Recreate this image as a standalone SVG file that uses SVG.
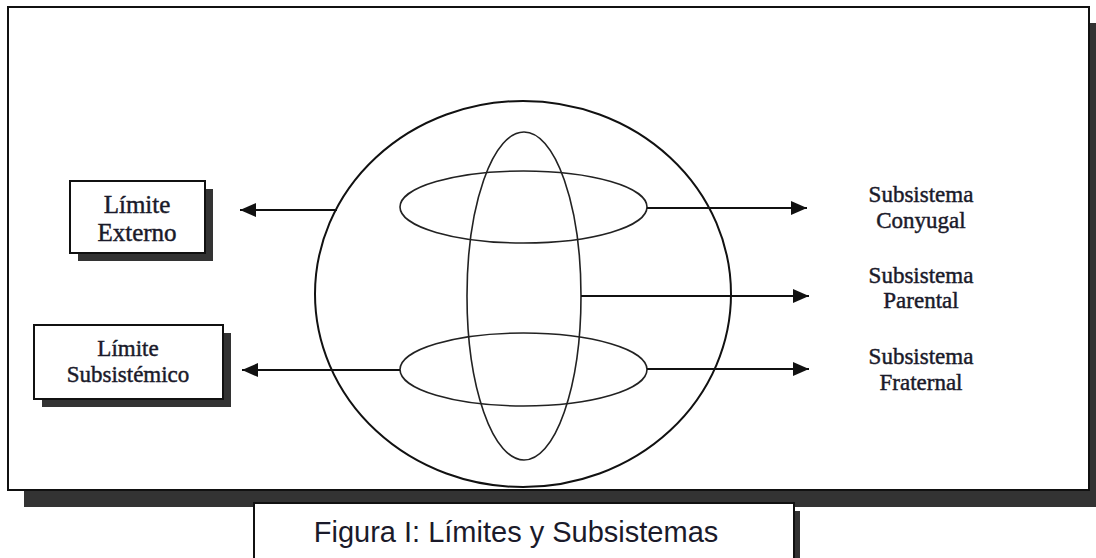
<svg xmlns="http://www.w3.org/2000/svg" width="1096" height="558" viewBox="0 0 1096 558">
<defs>
<style>
.frame{fill:#fff;stroke:#111;stroke-width:2}
.shadow{fill:#333;stroke:none}
.shape{fill:none;stroke:#111;stroke-width:2}
.inner{fill:none;stroke:#222;stroke-width:1.6}
.conn{stroke:#111;stroke-width:2;fill:none}
.lbl{font-family:"Liberation Serif","Times New Roman",serif;fill:#1a1a2a;stroke:#1a1a2a;stroke-width:0.45;text-anchor:middle}
.cap{font-family:"Liberation Sans",Arial,sans-serif;font-size:29px;fill:#1a1a2a;text-anchor:middle}
</style>
<marker id="arr" viewBox="0 0 16 14" refX="16" refY="7" markerWidth="16" markerHeight="14" markerUnits="userSpaceOnUse" orient="auto">
<path d="M0,0 L16,7 L0,14 Z" fill="#111"/>
</marker>
</defs>
<rect width="1096" height="558" fill="#fff"/>
<g id="frame">
<rect class="shadow" x="24" y="23" width="1090" height="484"/>
<rect class="frame" x="8" y="7" width="1081" height="483"/>
</g>
<g id="system">
<ellipse class="shape" cx="523" cy="294" rx="208" ry="193"/>
<ellipse class="inner" cx="524" cy="296" rx="57" ry="164"/>
<ellipse class="inner" cx="523.5" cy="207" rx="123.5" ry="36"/>
<ellipse class="inner" cx="523.5" cy="369.5" rx="123.5" ry="36.5"/>
</g>
<g id="connectors">
<line class="conn" x1="337" y1="210" x2="240" y2="210" marker-end="url(#arr)"/>
<line class="conn" x1="400" y1="370" x2="242" y2="370" marker-end="url(#arr)"/>
<line class="conn" x1="647" y1="208" x2="807" y2="208" marker-end="url(#arr)"/>
<line class="conn" x1="581" y1="296" x2="809" y2="296" marker-end="url(#arr)"/>
<line class="conn" x1="647" y1="369" x2="809" y2="369" marker-end="url(#arr)"/>
</g>
<g id="limite-externo">
<rect class="shadow" x="78" y="189" width="135" height="72"/>
<rect class="frame" x="70" y="181" width="135" height="72"/>
<text class="lbl" x="137" y="213" font-size="25">Límite</text>
<text class="lbl" x="137" y="241" font-size="25">Externo</text>
</g>
<g id="limite-subsistemico">
<rect class="shadow" x="42" y="333" width="189" height="74"/>
<rect class="frame" x="34" y="325" width="189" height="74"/>
<text class="lbl" x="128" y="356" font-size="23">Límite</text>
<text class="lbl" x="128" y="382" font-size="23">Subsistémico</text>
</g>
<g id="conyugal">
<text class="lbl" x="921" y="202" font-size="23">Subsistema</text>
<text class="lbl" x="921" y="228" font-size="23">Conyugal</text>
</g>
<g id="parental">
<text class="lbl" x="921" y="283" font-size="23">Subsistema</text>
<text class="lbl" x="921" y="308" font-size="23">Parental</text>
</g>
<g id="fraternal">
<text class="lbl" x="921" y="364" font-size="23">Subsistema</text>
<text class="lbl" x="921" y="390" font-size="23">Fraternal</text>
</g>
<g id="caption">
<rect class="shadow" x="262" y="511" width="538" height="60"/>
<rect class="frame" x="254" y="503" width="540" height="70"/>
<text class="cap" x="516" y="542">Figura I: Límites y Subsistemas</text>
</g>
</svg>
